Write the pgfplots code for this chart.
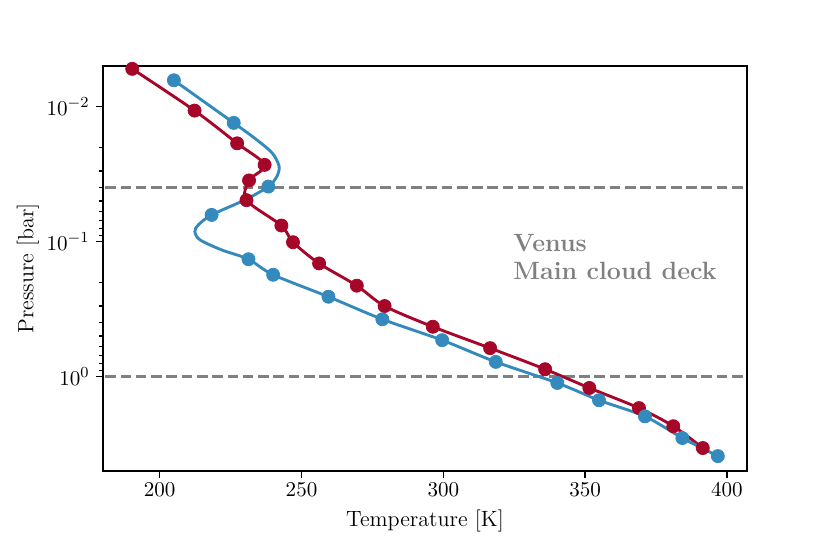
\documentclass[border=0pt]{standalone}
\usepackage{fontspec}
\usepackage{pgfplots}
\pgfplotsset{compat=1.18}
\definecolor{cred}{HTML}{A60628}
\definecolor{cblue}{HTML}{348ABD}
\definecolor{cgray}{HTML}{808080}
\pgfplotstableread{
T P
190.3 0.00525
212.3 0.0107
227.3 0.0187
237.0 0.0270
231.5 0.0352
230.6 0.0493
242.9 0.0760
247.0 0.101
256.2 0.145
269.5 0.212
279.3 0.300
296.3 0.427
316.5 0.615
335.9 0.881
351.5 1.213
369.0 1.71
381.1 2.33
391.5 3.38
}\redtab
\pgfplotstableread{
T P
205.0 0.00638
226.1 0.0132
234.2 0.0176
239.7 0.0221
242.1 0.0277
241.3 0.0329
238.3 0.0391
230.1 0.0490
218.3 0.0634
213.6 0.0752
212.4 0.0843
214.2 0.0970
221.9 0.1153
231.3 0.135
240.0 0.176
259.5 0.256
278.5 0.376
299.6 0.537
318.5 0.778
340.2 1.114
354.9 1.496
371.1 1.97
384.3 2.85
396.8 3.88
}\bluetab
\pgfplotstableread{
T P
205.0 0.00638
226.1 0.0132
238.3 0.0391
218.3 0.0634
231.3 0.135
240.0 0.176
259.5 0.256
278.5 0.376
299.6 0.537
318.5 0.778
340.2 1.114
354.9 1.496
371.1 1.97
384.3 2.85
396.8 3.88
}\bluedots
\begin{document}
\begin{tikzpicture}
\useasboundingbox (-53.56pt,-43.16pt) rectangle (378.04pt,244.92pt);
\begin{axis}[
 at={(0,0)}, anchor=south west,
 scale only axis, width=334.9pt, height=210.6pt,
 xmin=180, xmax=407.1,
 ymode=log, y dir=reverse, ymin=0.005, ymax=5,
 xtick={200,250,300,350,400},
 ytick={0.01,0.1,1},
 tick pos=left, tick align=outside,
 major tick length=3.5pt, minor tick length=2pt,
 major tick style={black, line width=0.8pt},
 minor tick style={black, line width=0.6pt},
 axis line style={line width=0.8pt},
 ticklabel style={font=\fontsize{11}{13}\selectfont},
 xticklabel style={yshift=1pt},
 label style={font=\fontsize{11.5}{14}\selectfont},
 xlabel={Temperature [K]},
 ylabel={Pressure [bar]},
 xlabel style={at={(axis description cs:0.5,-0.137)}, anchor=base},
 ylabel style={at={(axis description cs:-0.108,0.5)}, anchor=base},
]
\addplot[cgray, line width=1.5pt, dash pattern=on 5.55pt off 2.4pt] coordinates {(170,0.04) (420,0.04)};
\addplot[cgray, line width=1.5pt, dash pattern=on 5.55pt off 2.4pt] coordinates {(170,1) (420,1)};
\addplot[cred, line width=1.5pt, smooth, tension=0.5] table[x=T,y=P] {\redtab};
\addplot[cred, only marks, mark=*, mark size=3.4pt, mark options={draw=cred, fill=cred}] table[x=T,y=P] {\redtab};
\addplot[cblue, line width=1.5pt, smooth, tension=0.5] table[x=T,y=P] {\bluetab};
\addplot[cblue, only marks, mark=*, mark size=3.4pt, mark options={draw=cblue, fill=cblue}] table[x=T,y=P] {\bluedots};
\node[anchor=base west, text=cgray, font=\fontsize{13}{15}\selectfont\bfseries, inner sep=0pt] at (axis cs:324.6,0.119) {Venus};
\node[anchor=base west, text=cgray, font=\fontsize{13}{15}\selectfont\bfseries, inner sep=0pt] at (axis cs:324.6,0.192) {Main cloud deck};
\end{axis}
\end{tikzpicture}
\end{document}
